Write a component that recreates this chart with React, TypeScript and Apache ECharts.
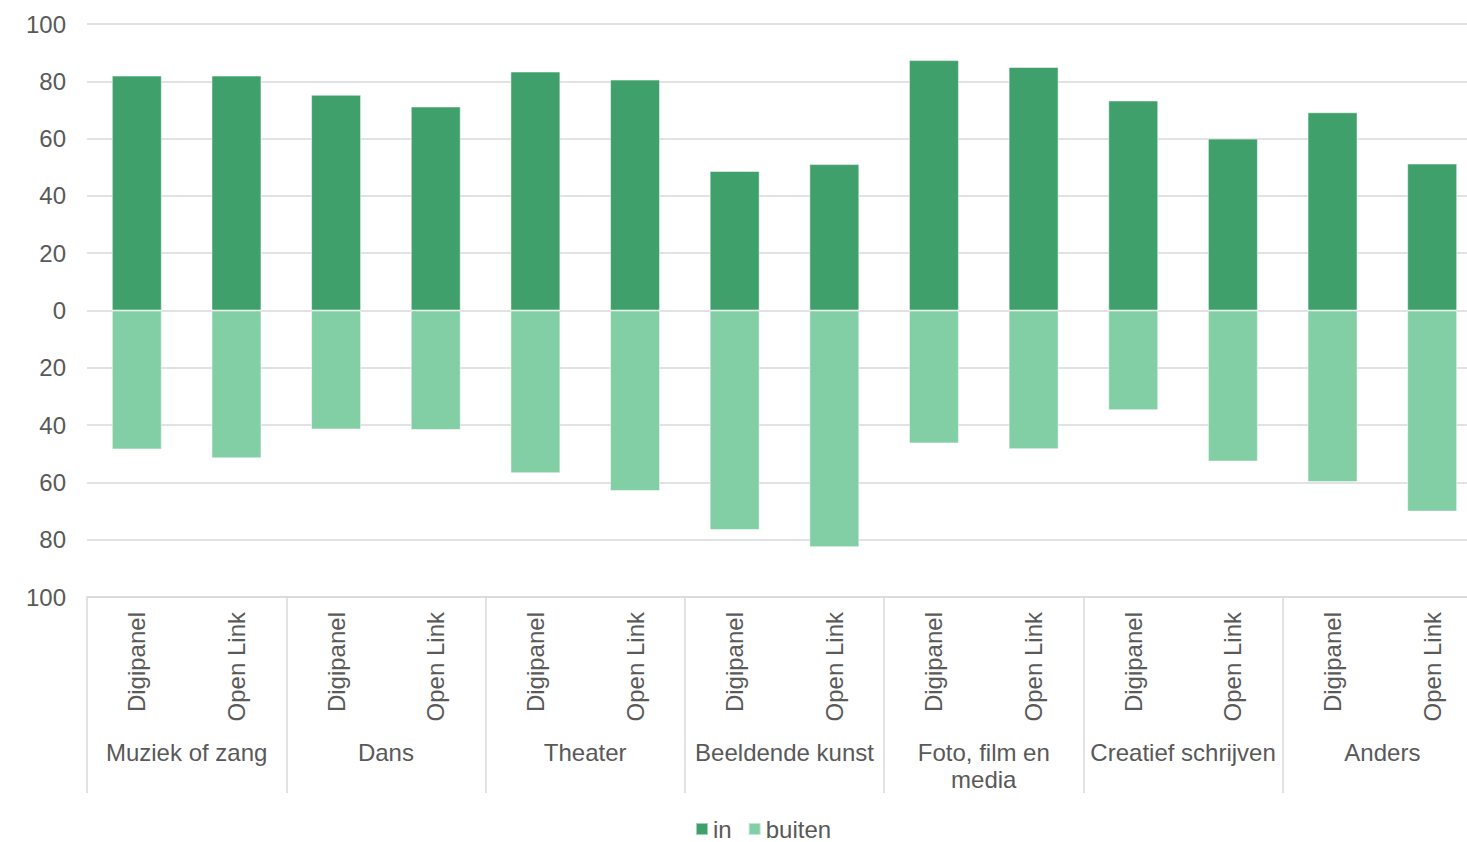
import React, { useEffect, useRef } from "react";
import * as echarts from "echarts";

const subLabels = [
  "Digipanel", "Open Link", "Digipanel", "Open Link", "Digipanel", "Open Link", "Digipanel",
  "Open Link", "Digipanel", "Open Link", "Digipanel", "Open Link", "Digipanel", "Open Link",
];
const groupLabels = [
  "Muziek of zang", "Dans", "Theater", "Beeldende kunst", "Foto, film en\nmedia", "Creatief schrijven", "Anders",
];
const inValues = [82, 82, 75.3, 71.2, 83.4, 80.6, 48.7, 51.1, 87.4, 85, 73.3, 60, 69.2, 51.3];
const buitenValues = [48.5, 51.6, 41.5, 41.7, 56.8, 63, 76.6, 82.6, 46.4, 48.4, 34.8, 52.7, 59.9, 70.2];

const TEXT = "#595959";
const GRID = "#d9d9d9";
const FONT = "Liberation Sans, Arial, sans-serif";
const FS = 24;

export default function App() {
  const ref = useRef<HTMLDivElement>(null);
  useEffect(() => {
    document.body.style.margin = "0";
    const chart = echarts.init(ref.current!, null, { renderer: "svg" });
    chart.setOption({
      animation: false,
      textStyle: { fontFamily: FONT },
      grid: {
        left: 87,
        right: -15,
        top: 24,
        bottom: 245,
        containLabel: false,
        outerBoundsMode: "none",
      },
      legend: {
        bottom: -4,
        left: 690,
        icon: "rect",
        itemWidth: 12,
        itemHeight: 12,
        itemGap: 16,
        textStyle: { fontSize: FS, color: TEXT, fontFamily: FONT },
        data: ["in", "buiten"],
      },
      xAxis: [
        {
          type: "category",
          data: subLabels,
          position: "bottom",
          axisLine: { show: true, onZero: false, lineStyle: { color: GRID, width: 1.5 } },
          axisTick: { show: false },
          axisLabel: {
            rotate: 90,
            interval: 0,
            margin: 15,
            fontSize: FS,
            color: TEXT,
            fontFamily: FONT,
          },
        },
        {
          type: "category",
          data: groupLabels,
          position: "bottom",
          axisLine: { show: false, onZero: false },
          axisTick: { show: true, length: 196, interval: 0, lineStyle: { color: GRID, width: 1.5 } },
          axisLabel: {
            interval: 0,
            margin: 142,
            fontSize: FS,
            lineHeight: 27,
            color: TEXT,
            fontFamily: FONT,
          },
        },
      ],
      yAxis: {
        type: "value",
        min: -100,
        max: 100,
        interval: 20,
        axisLine: { show: false },
        axisTick: { show: false },
        splitLine: { lineStyle: { color: GRID, width: 1.5 } },
        axisLabel: {
          margin: 21,
          fontSize: FS,
          color: TEXT,
          fontFamily: FONT,
          formatter: (v: number) => String(Math.abs(v)),
        },
      },
      series: [
        {
          name: "in",
          type: "bar",
          stack: "total",
          barWidth: 50,
          data: inValues,
          itemStyle: { color: "#40a06c", borderColor: "rgba(255,255,255,0.5)", borderWidth: 1 },
        },
        {
          name: "buiten",
          type: "bar",
          stack: "total",
          barWidth: 50,
          data: buitenValues.map((v) => -v),
          itemStyle: { color: "#82cfa5", borderColor: "rgba(255,255,255,0.5)", borderWidth: 1 },
        },
      ],
    });
    return () => chart.dispose();
  }, []);
  return <div ref={ref} style={{ width: 1467, height: 842 }} />;
}
